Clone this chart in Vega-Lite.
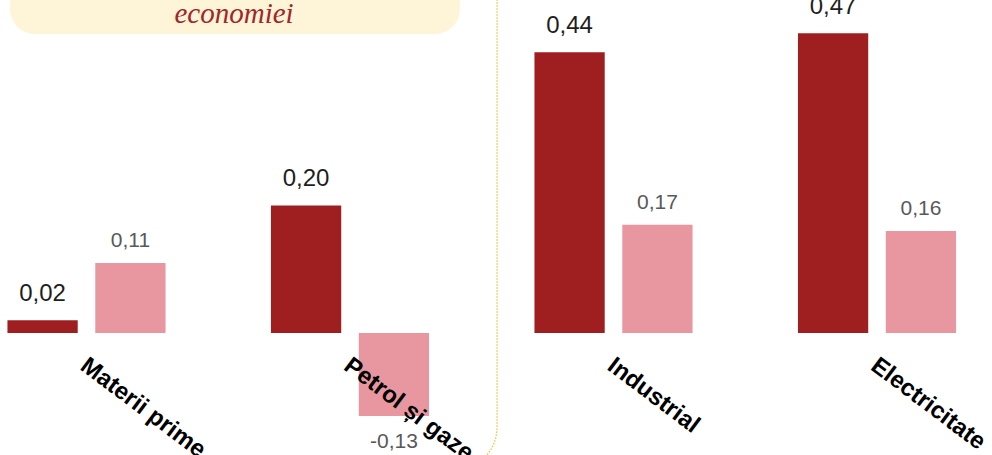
{
  "$schema": "https://vega.github.io/schema/vega-lite/v6.json",
  "width": 992,
  "height": 455,
  "autosize": {"type": "none"},
  "padding": 0,
  "background": "white",
  "config": {"view": {"stroke": null}},
  "datasets": {
    "bars": [
      {"categorie": "Materii prime", "serie": "Seria 1", "valoare": 0.02},
      {"categorie": "Materii prime", "serie": "Seria 2", "valoare": 0.11},
      {"categorie": "Petrol și gaze", "serie": "Seria 1", "valoare": 0.20},
      {"categorie": "Petrol și gaze", "serie": "Seria 2", "valoare": -0.13},
      {"categorie": "Industrial", "serie": "Seria 1", "valoare": 0.44},
      {"categorie": "Industrial", "serie": "Seria 2", "valoare": 0.17},
      {"categorie": "Electricitate", "serie": "Seria 1", "valoare": 0.47},
      {"categorie": "Electricitate", "serie": "Seria 2", "valoare": 0.16}
    ],
    "adnotari": [
      {"element": "caseta", "start": -0.29, "sfarsit": 1.417, "sus": 0.7, "jos": 0.4687},
      {"element": "cadru", "start": -3, "sfarsit": 1.558, "sus": 0.7, "jos": -0.216}
    ],
    "text_nota": [
      {"pozitie": 0.56, "nivel": 0.486, "text": "economiei"}
    ]
  },
  "resolve": {"scale": {"x": "independent"}},
  "layer": [
    {
      "layer": [
        {
          "data": {"name": "adnotari"},
          "transform": [{"filter": "datum.element === 'caseta'"}],
          "mark": {"type": "rect", "fill": "#fef4d8", "cornerRadius": 25},
          "encoding": {
            "x": {"field": "start", "type": "quantitative", "axis": null, "scale": {"domain": [-0.3283, 3.4364], "nice": false, "zero": false}},
            "x2": {"field": "sfarsit"},
            "y": {"field": "sus", "type": "quantitative", "axis": null, "scale": {"domain": [-0.191, 0.522], "nice": false, "zero": false}},
            "y2": {"field": "jos"}
          }
        },
        {
          "data": {"name": "adnotari"},
          "transform": [{"filter": "datum.element === 'cadru'"}],
          "mark": {"type": "rect", "fillOpacity": 0, "stroke": "#f5bf3a", "strokeWidth": 1.3, "strokeDash": [1.5, 1.5], "cornerRadius": 44},
          "encoding": {
            "x": {"field": "start", "type": "quantitative"},
            "x2": {"field": "sfarsit"},
            "y": {"field": "sus", "type": "quantitative"},
            "y2": {"field": "jos"}
          }
        },
        {
          "data": {"name": "text_nota"},
          "mark": {"type": "text", "font": "Liberation Serif", "fontStyle": "italic", "fontSize": 29, "color": "#a2262a", "align": "center", "baseline": "alphabetic"},
          "encoding": {
            "x": {"field": "pozitie", "type": "quantitative"},
            "y": {"field": "nivel", "type": "quantitative"},
            "text": {"field": "text"}
          }
        }
      ]
    },
    {
      "data": {"name": "bars"},
      "layer": [
        {
          "mark": {"type": "bar"},
          "encoding": {
            "x": {
              "field": "categorie", "type": "nominal",
              "scale": {"domain": ["Materii prime", "Petrol și gaze", "Industrial", "Electricitate"], "range": [-45.25, 1008.75], "paddingInner": 0.4, "paddingOuter": 0.2},
              "axis": {"orient": "bottom", "offset": -122, "zindex": 1, "domain": false, "ticks": false, "tickSize": 0, "labelPadding": 20, "labelOffset": 4, "labelAngle": 37, "labelAlign": "left", "labelBaseline": "top", "labelFont": "Liberation Sans", "labelFontWeight": "bold", "labelFontSize": 24, "labelColor": "#000000", "labelLimit": 400, "labelOverlap": false, "title": null}
            },
            "xOffset": {"field": "serie", "type": "nominal", "scale": {"paddingInner": 0.2, "paddingOuter": 0}},
            "y": {
              "field": "valoare", "type": "quantitative",
              "scale": {"domain": [-0.191, 0.522], "nice": false, "zero": false},
              "axis": {"values": [0], "grid": true, "gridColor": "#d9d9d9", "gridWidth": 2, "domain": false, "ticks": false, "labels": false, "title": null}
            },
            "color": {"field": "serie", "type": "nominal", "legend": null, "scale": {"domain": ["Seria 1", "Seria 2"], "range": ["#9f1f21", "#e897a1"]}}
          }
        },
        {
          "transform": [{"filter": "datum.serie === 'Seria 1'"}, {"calculate": "replace(format(datum.valoare, '.2f'), '.', ',')", "as": "eticheta"}],
          "mark": {"type": "text", "font": "Liberation Sans", "fontSize": 24, "color": "#1e1e1e", "baseline": "alphabetic", "dx": -44, "dy": -19},
          "encoding": {
            "x": {"field": "categorie", "type": "nominal"},
            "y": {"field": "valoare", "type": "quantitative"},
            "text": {"field": "eticheta"}
          }
        },
        {
          "transform": [{"filter": "datum.serie === 'Seria 2' && datum.valoare >= 0"}, {"calculate": "replace(format(datum.valoare, '.2f'), '.', ',')", "as": "eticheta"}],
          "mark": {"type": "text", "font": "Liberation Sans", "fontSize": 21, "color": "#595959", "baseline": "alphabetic", "dx": 44, "dy": -16},
          "encoding": {
            "x": {"field": "categorie", "type": "nominal"},
            "y": {"field": "valoare", "type": "quantitative"},
            "text": {"field": "eticheta"}
          }
        },
        {
          "transform": [{"filter": "datum.serie === 'Seria 2' && datum.valoare < 0"}, {"calculate": "'-' + replace(format(abs(datum.valoare), '.2f'), '.', ',')", "as": "eticheta"}],
          "mark": {"type": "text", "font": "Liberation Sans", "fontSize": 21, "color": "#595959", "baseline": "top", "dx": 44, "dy": 15},
          "encoding": {
            "x": {"field": "categorie", "type": "nominal"},
            "y": {"field": "valoare", "type": "quantitative"},
            "text": {"field": "eticheta"}
          }
        }
      ]
    }
  ]
}
